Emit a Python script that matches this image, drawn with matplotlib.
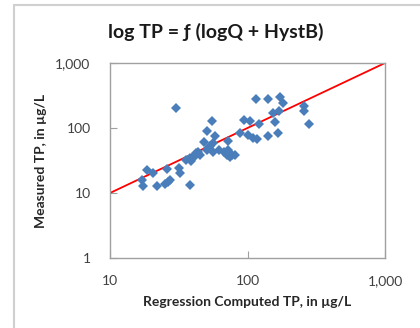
import matplotlib
matplotlib.use('Agg')
import matplotlib.pyplot as plt
from matplotlib.patches import Rectangle
from matplotlib.ticker import FixedLocator, NullLocator

plt.rcParams['font.family'] = ['Lato', 'DejaVu Sans']

# regression computed TP vs measured TP (ug/L)
computed_tp = [17.0, 17.4, 18.5, 20.4, 21.9, 25.0, 26.3, 27.5, 26.0, 30.0,
               31.5, 32.5, 38.0, 36.0, 38.0, 39.0, 41.0, 42.0, 44.0, 45.0,
               48.0, 51.0, 52.0, 50.5, 53.0, 55.0, 56.0, 56.0, 58.0, 62.0,
               67.0, 72.0, 72.0, 71.0, 74.0, 77.0, 81.0, 88.0, 94.0, 104.0,
               101.0, 109.0, 117.0, 115.0, 121.0, 140.0, 140.0, 152.0, 158.0, 168.0,
               170.0, 172.0, 180.0, 258.0, 258.0, 280.0]
measured_tp = [15.7, 13.0, 22.5, 20.0, 12.7, 14.0, 15.0, 16.0, 23.5, 204.0,
               24.0, 20.5, 13.5, 32.0, 34.0, 31.0, 36.0, 41.0, 43.0, 38.0,
               61.0, 91.0, 49.0, 46.0, 53.0, 130.0, 58.0, 43.0, 74.0, 46.0,
               43.0, 46.0, 62.0, 38.0, 36.0, 38.0, 38.0, 84.0, 135.0, 127.0,
               79.0, 70.0, 67.0, 275.0, 115.0, 275.0, 76.0, 171.0, 122.0, 85.0,
               181.0, 303.0, 244.0, 217.0, 181.0, 115.0]

# 1:1 line
line_x = [10, 1000]
line_y = [10, 1000]

ticks = [1, 10, 100, 1000]
tick_labels = ['1', '10', '100', '1,000']

fig = plt.figure(figsize=(4.2, 3.28), dpi=100)
ax = fig.add_axes([110/420, 1 - 258/328, 275/420, 195/328])

ax.plot(line_x, line_y, color='#ff0000', lw=1.3, zorder=2)
ax.plot(computed_tp, measured_tp, 'D', color='#4a7ebb', markersize=4.6,
        markeredgewidth=0, zorder=3)

ax.set_xscale('log')
ax.set_yscale('log')
ax.set_xlim(10, 1000)
ax.set_ylim(1, 1000)
ax.xaxis.set_major_locator(FixedLocator(ticks[1:]))
ax.yaxis.set_major_locator(FixedLocator(ticks))
ax.set_xticklabels(tick_labels[1:])
ax.set_yticklabels(tick_labels)
ax.xaxis.set_minor_locator(NullLocator())
ax.yaxis.set_minor_locator(NullLocator())
ax.tick_params(direction='in', length=5, width=0.8, color='#a0a0a0',
               labelsize=10, labelcolor='#404040')
ax.tick_params(axis='x', pad=12)
ax.tick_params(axis='y', pad=14)
for s in ax.spines.values():
    s.set_color('#a0a0a0')
    s.set_linewidth(1.0)

ax.set_xlabel('Regression Computed TP, in µg/L', fontsize=10, fontweight='bold',
              color='#262626', labelpad=7)
ax.set_ylabel('Measured TP, in µg/L', fontsize=10, fontweight='bold',
              color='#262626', labelpad=6)

fig.text(216/420, 1 - 32/328, 'log TP = ƒ (logQ + HystB)', fontsize=14,
         fontweight='bold', ha='center', va='center', color='#1a1a1a')

# chart area border
fig.patches.append(Rectangle((14/420, -0.1), 1.2, 1 - 5/328 + 0.1,
                             transform=fig.transFigure, fill=False,
                             edgecolor='#d0d0d0', lw=1.5))

fig.savefig('out.png', dpi=100)
